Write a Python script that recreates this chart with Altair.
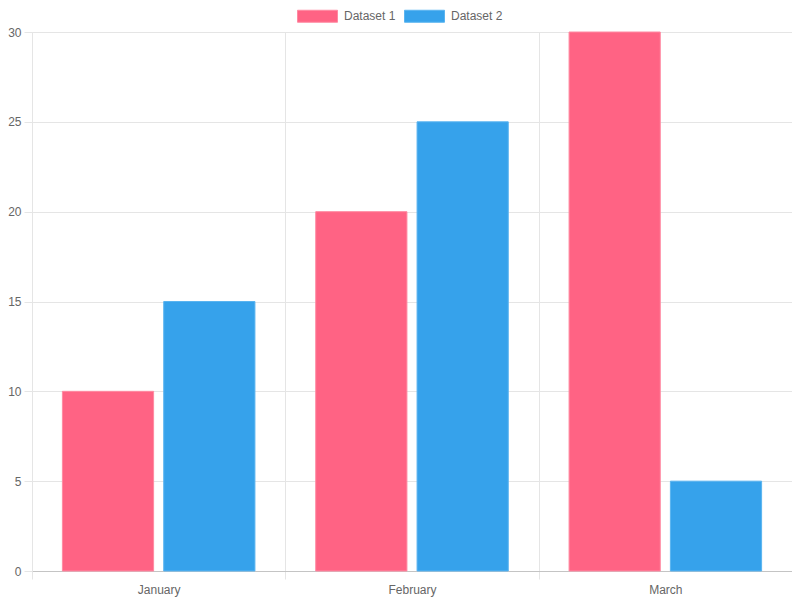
import pandas as pd
import altair as alt

# Data
months = ['January', 'February', 'March']
dataset_1 = [10, 20, 30]
dataset_2 = [15, 25, 5]
series = ['Dataset 1', 'Dataset 2']
colors = ['#ff6384', '#36a2eb']
borders = ['#ff8aa2', '#5ab4f0']

df = pd.DataFrame({
    'month': months * 2,
    'series': [series[0]] * 3 + [series[1]] * 3,
    'value': dataset_1 + dataset_2,
})

font = 'Liberation Sans'
grid = '#e5e5e5'

bars = (
    alt.Chart(df)
    .mark_bar(strokeWidth=1)
    .encode(
        x=alt.X('month:N', sort=months, title=None,
                scale=alt.Scale(paddingInner=0, paddingOuter=0),
                axis=alt.Axis(labelAngle=0, tickBand='extent', grid=True,
                              gridColor=grid, tickColor=grid, tickSize=8,
                              domainColor='#c4c4c4', labelPadding=5,
                              labelColor='#666666', labelFontSize=12, labelFont=font)),
        xOffset=alt.XOffset('series:N', scale=alt.Scale(paddingInner=0.1, paddingOuter=0.3)),
        y=alt.Y('value:Q', title=None,
                scale=alt.Scale(domain=[0, 30], nice=False),
                axis=alt.Axis(values=[0, 5, 10, 15, 20, 25, 30], gridColor=grid,
                              tickColor=grid, tickSize=8, domainColor=grid,
                              labelPadding=3, labelColor='#666666',
                              labelFontSize=12, labelFont=font)),
        color=alt.Color('series:N', scale=alt.Scale(domain=series, range=colors),
                        legend=alt.Legend(
                            orient='none', legendX=265, legendY=-36.5, direction='horizontal',
                            title=None, symbolType='M-1,-0.3 h2 v0.6 h-2 Z', symbolSize=1600,
                            symbolStrokeWidth=1, symbolStrokeColor='#ffffff',
                            labelOffset=6, columnPadding=6, padding=0,
                            labelFont=font, labelFontSize=12, labelColor='#666666')),
        stroke=alt.Stroke('series:N', scale=alt.Scale(domain=series, range=borders), legend=None),
    )
    .properties(
        width=760,
        height=539,
        autosize=alt.AutoSizeParams(type='none'),
        padding={'left': 24, 'top': 24, 'right': 0, 'bottom': 28},
    )
    .configure_view(stroke=None)
)

bars.save('out.html', embed_options={'renderer': 'svg', 'actions': False})
